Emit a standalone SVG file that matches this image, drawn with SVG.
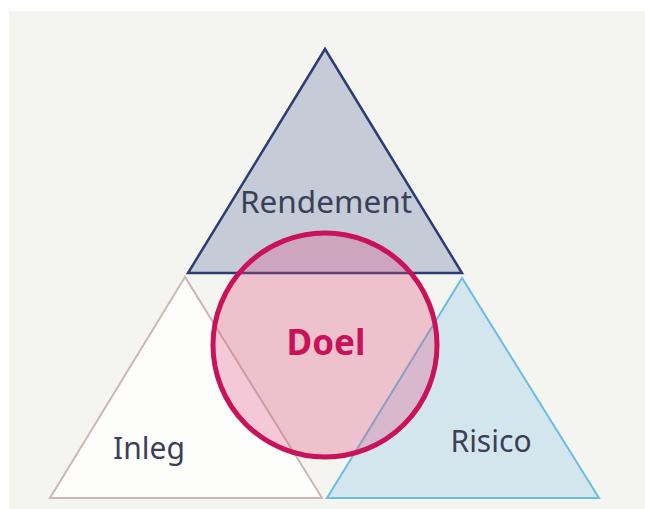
<svg xmlns="http://www.w3.org/2000/svg" width="645" height="509" viewBox="0 0 645 509">
<style>
.lbl{font-family:"Noto Sans","Open Sans","Liberation Sans",sans-serif;font-size:30px;fill:#3b3f58;text-anchor:middle}
.doel{font-family:"Noto Sans","Open Sans","Liberation Sans",sans-serif;font-size:35px;font-weight:bold;fill:#c8125a;text-anchor:middle}
</style>
<rect x="0" y="0" width="645" height="509" fill="#ffffff"/>
<rect x="9" y="11" width="636" height="498" fill="#f4f4f0"/>
<g id="rendement">
<polygon points="325,49 188,273 462,273" fill="#c5cbd7" stroke="#2b3d73" stroke-width="2.5" stroke-linejoin="miter"/>
<text class="lbl" x="326" y="213" style="font-size:31.5px">Rendement</text>
</g>
<g id="inleg">
<polygon points="185,277 50,498 322,498" fill="#fdfdfc" stroke="#c9b9b5" stroke-width="2"/>
<text class="lbl" x="149" y="459">Inleg</text>
</g>
<g id="risico">
<polygon points="462,278 327,498 599,498" fill="#d3e6ee" stroke="#6cbde0" stroke-width="2"/>
<text class="lbl" x="491" y="452">Risico</text>
</g>
<g id="doel">
<circle cx="325" cy="345" r="112" fill="#e0507f" fill-opacity="0.3" stroke="#c8125a" stroke-width="5"/>
<text class="doel" x="326" y="355">Doel</text>
</g>
<g id="connectors"></g>
</svg>
